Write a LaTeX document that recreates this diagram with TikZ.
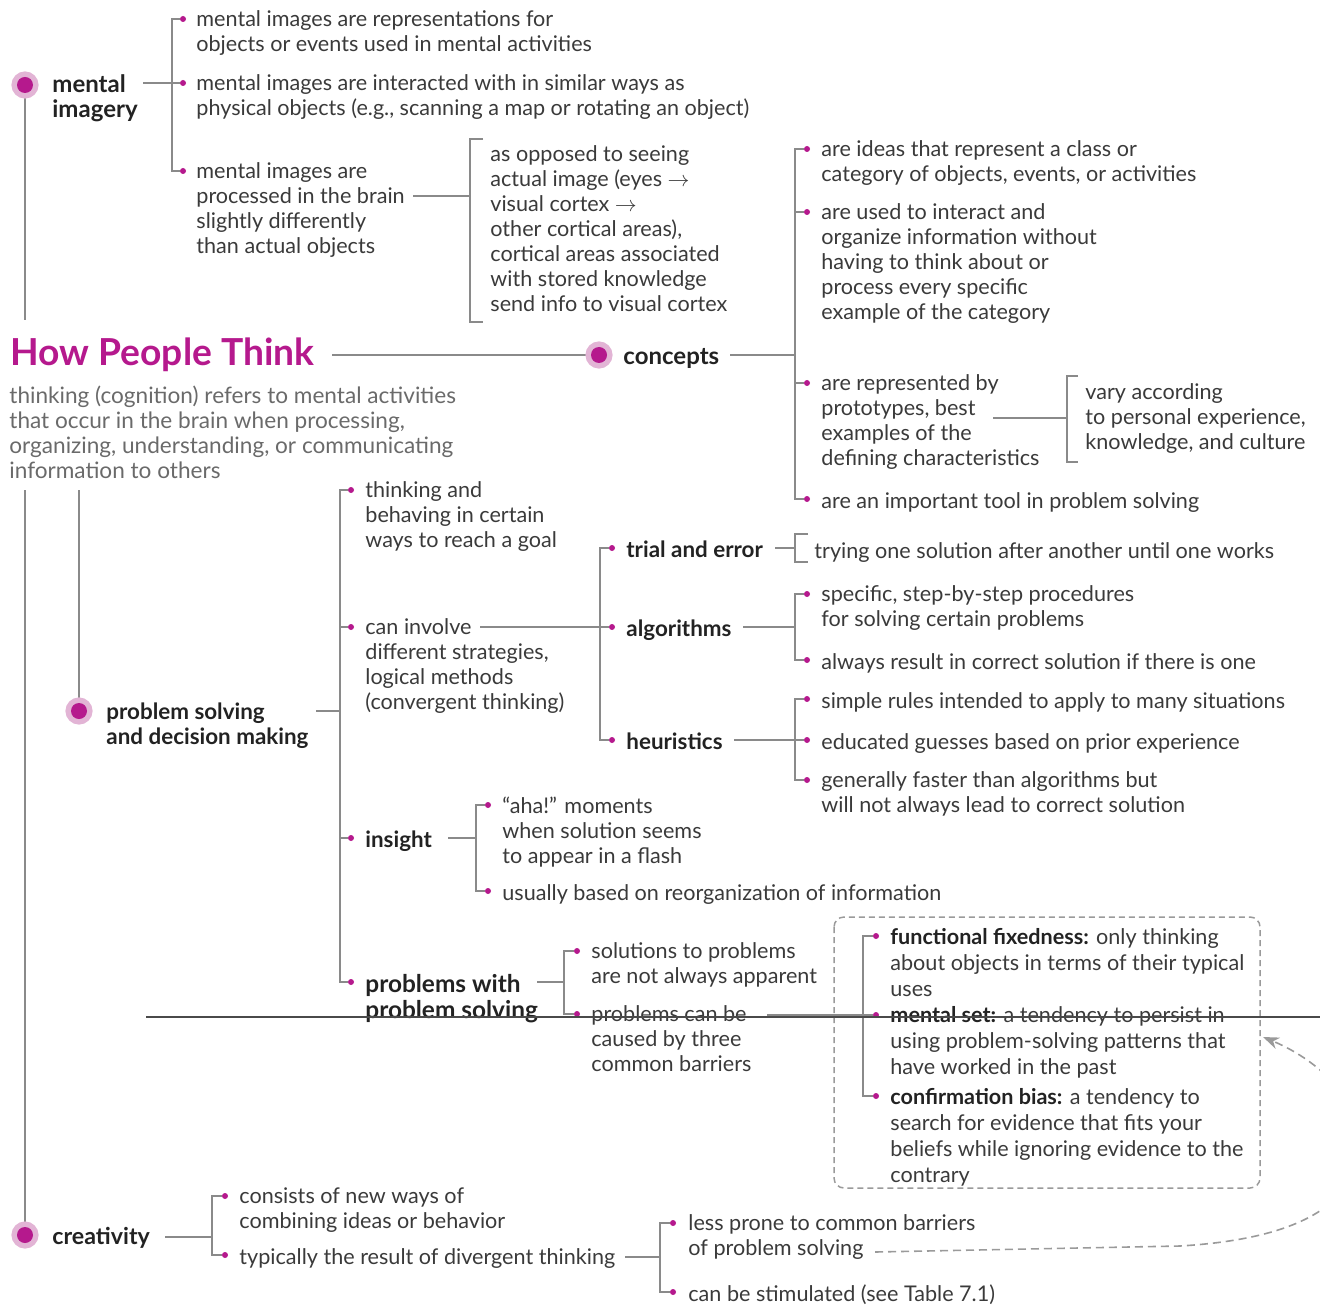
\documentclass[tikz,border=0pt]{standalone}
\usepackage{fontspec}
\setmainfont{Lato}
\usetikzlibrary{arrows.meta}
\definecolor{mag}{HTML}{B5198D}
\definecolor{pinkring}{HTML}{E2B4D5}
\definecolor{linegray}{HTML}{8A8A8A}
\definecolor{txtgray}{HTML}{3A3A3A}
\definecolor{descgray}{HTML}{6A6A6A}
\definecolor{hdgray}{HTML}{222222}
\definecolor{dashgray}{HTML}{9A9A9A}
\definecolor{strikegray}{HTML}{4A4A4A}
\pgfdeclarelayer{bg}
\pgfsetlayers{bg,main}
\tikzset{
  conn/.style={draw=linegray, line width=0.75pt},
  dot/.style={circle, fill=mag, inner sep=0pt, minimum size=3pt},
  txt/.style={anchor=north west, yshift=4.25pt, inner sep=0pt, align=left,
    font=\fontsize{10.8}{12.5}\selectfont, text=txtgray, execute at begin node=\strut},
  txtb/.style={txt, font=\fontsize{10.8}{13}\selectfont},
  hd/.style={txt, font=\fontsize{11.2}{12.5}\selectfont\bfseries, text=hdgray},
  hdl/.style={txt, font=\fontsize{12}{12.5}\selectfont\bfseries, text=hdgray},
  big/.style={circle, inner sep=0pt, minimum size=8pt, fill=mag,
    preaction={draw=pinkring, fill=pinkring, line width=5.5pt}},
  dashbox/.style={draw=dashgray, line width=0.75pt, dash pattern=on 3pt off 2pt, rounded corners=5pt},
}
\begin{document}
\begin{tikzpicture}[x=0.5pt, y=-0.5pt]
\useasboundingbox (0,0) rectangle (1320,1304);
\clip (0,0) rectangle (1320,1304);

% ---------- title ----------
\node[anchor=base west, inner sep=0pt, font=\fontsize{18.6}{20}\selectfont\bfseries, text=mag] (tt) at (10,366) {How People Think};
\node[txt, font=\fontsize{11.3}{12.5}\selectfont, text=descgray] (desc) at (9,394) {thinking (cognition) refers to mental activities\\that occur in the brain when processing,\\organizing, understanding, or communicating\\information to others};

% ---------- mental imagery ----------
\node[big] (mi) at (25,85) {};
\node[hdl] (mit) at (52,83) {mental\\imagery};
\node[dot] (m1) at (183,19) {};
\node[dot] (m2) at (183,83) {};
\node[dot] (m3) at (183,171) {};
\node[txt] (m1t) at (196,19) {mental images are representations for\\objects or events used in mental activities};
\node[txt] (m2t) at (196,83) {mental images are interacted with in similar ways as\\physical objects (e.g., scanning a map or rotating an object)};
\node[txt] (m3t) at (196,171) {mental images are\\processed in the brain\\slightly differently\\than actual objects};
\node[txt] (vt) at (490,154) {as opposed to seeing\\actual image (eyes $\rightarrow$\\visual cortex $\rightarrow$\\other cortical areas),\\cortical areas associated\\with stored knowledge\\send info to visual cortex};
\coordinate (mio) at (143,83);
\coordinate (mib) at (172,83);
\coordinate (m3o) at (413,196);
\coordinate (vb) at (470,196);
\coordinate (vbt) at (483,139);
\coordinate (vbb) at (483,322);
\coordinate (v1) at (25,320);

% ---------- concepts ----------
\node[big] (cc) at (599,355) {};
\node[hdl] (cct) at (623,355) {concepts};
\node[dot] (c1) at (807,149) {};
\node[dot] (c2) at (807,212) {};
\node[dot] (c3) at (807,383) {};
\node[dot] (c4) at (807,499) {};
\node[txt] (c1t) at (821,149) {are ideas that represent a class or\\category of objects, events, or activities};
\node[txt] (c2t) at (821,212) {are used to interact and\\organize information without\\having to think about or\\process every specific\\example of the category};
\node[txt] (c3t) at (821,383) {are represented by\\prototypes, best\\examples of the\\defining characteristics};
\node[txt] (c4t) at (821,499) {are an important tool in problem solving};
\node[txt] (pt) at (1085,392) {vary according\\to personal experience,\\knowledge, and culture};
\coordinate (tto) at (332,355);
\coordinate (cco) at (730,355);
\coordinate (ccb) at (795,355);
\coordinate (c3o) at (993,418);
\coordinate (pb) at (1067,418);
\coordinate (pbt) at (1078,376);
\coordinate (pbb) at (1078,462);

% ---------- problem solving ----------
\coordinate (v2) at (25,490);
\coordinate (v3) at (79,490);
\node[big] (ps) at (79,711) {};
\node[hd] (pst) at (106,711) {problem solving\\and decision making};
\coordinate (pso) at (316,711);
\coordinate (psb) at (340,711);
\node[dot] (p1) at (351,490) {};
\node[dot] (p2) at (351,627) {};
\node[dot] (p3) at (351,838) {};
\node[dot] (p4) at (351,982) {};
\node[txt] (p1t) at (365,490) {thinking and\\behaving in certain\\ways to reach a goal};
\node[txt] (p2t) at (365,627) {can involve\\different strategies,\\logical methods\\(convergent thinking)};
\node[hd] (p3t) at (365,838) {insight};
\node[hdl, font=\fontsize{12.2}{13}\selectfont\bfseries] (p4t) at (365,982) {problems with\\problem solving};
\coordinate (p2o) at (480,627);

% strategies
\coordinate (sb) at (600,627);
\node[dot] (s1) at (612,548) {};
\node[dot] (s2) at (612,627) {};
\node[dot] (s3) at (612,740) {};
\node[hd] (s1t) at (626,548) {trial and error};
\node[hd] (s2t) at (626,627) {algorithms};
\node[hd] (s3t) at (626,740) {heuristics};
\coordinate (s1o) at (775,548);
\coordinate (teb) at (795,548);
\coordinate (tebt) at (808,534);
\coordinate (tebb) at (808,562);
\node[txt] (tet) at (814,549) {trying one solution after another until one works};
\coordinate (s2o) at (743,627);
\coordinate (alb) at (795,627);
\node[dot] (a1) at (807,594) {};
\node[dot] (a2) at (807,660) {};
\node[txt] (a1t) at (821,594) {specific, step-by-step procedures\\for solving certain problems};
\node[txt] (a2t) at (821,660) {always result in correct solution if there is one};
\coordinate (s3o) at (734,740);
\coordinate (heb) at (795,740);
\node[dot] (h1) at (807,699) {};
\node[dot] (h2) at (807,740) {};
\node[dot] (h3) at (807,780) {};
\node[txt] (h1t) at (821,699) {simple rules intended to apply to many situations};
\node[txt] (h2t) at (821,740) {educated guesses based on prior experience};
\node[txt] (h3t) at (821,780) {generally faster than algorithms but\\will not always lead to correct solution};

% insight
\coordinate (p3o) at (448,838);
\coordinate (inb) at (476,838);
\node[dot] (i1) at (488,805) {};
\node[dot] (i2) at (488,891) {};
\node[txt] (i1t) at (502,805) {“aha!” moments\\when solution seems\\to appear in a flash};
\node[txt] (i2t) at (502,891) {usually based on reorganization of information};

% problems with problem solving
\coordinate (p4o) at (537,982);
\coordinate (pwb) at (564,982);
\node[dot] (q1) at (577,951) {};
\node[dot] (q2) at (577,1014) {};
\node[txt] (q1t) at (591,951) {solutions to problems\\are not always apparent};
\node[txt] (q2t) at (591,1014) {problems can be\\caused by three\\common barriers};
\coordinate (q2o) at (767,1015);

% barriers box
\draw[dashbox] (834,917) rectangle (1260,1188);
\coordinate (bb) at (863,1015);
\node[dot] (b1) at (876,936) {};
\node[dot] (b2) at (876,1015) {};
\node[dot] (b3) at (876,1096) {};
\node[txtb] (b1t) at (890,936) {\textbf{\color{hdgray}functional fixedness:} only thinking\\about objects in terms of their typical\\uses};
\node[txtb] (b2t) at (890,1015) {\textbf{\color{hdgray}mental set:} a tendency to persist in\\using problem-solving patterns that\\have worked in the past};
\node[txtb] (b3t) at (890,1096) {\textbf{\color{hdgray}confirmation bias:} a tendency to\\search for evidence that fits your\\beliefs while ignoring evidence to the\\contrary};

% ---------- creativity ----------
\node[big] (cr) at (25,1235) {};
\node[hdl, font=\fontsize{11.6}{12.5}\selectfont\bfseries] (crt) at (52,1235) {creativity};
\coordinate (cro) at (165,1237);
\coordinate (crb) at (212,1237);
\node[dot] (r1) at (225,1196) {};
\node[dot] (r2) at (225,1255) {};
\node[txt] (r1t) at (239,1196) {consists of new ways of\\combining ideas or behavior};
\node[txt] (r2t) at (239,1255) {typically the result of divergent thinking};
\coordinate (r2o) at (625,1257);
\coordinate (rb2) at (660,1257);
\node[dot] (k1) at (673,1223) {};
\node[dot] (k2) at (673,1292) {};
\node[txt] (k1t) at (688,1223) {less prone to common barriers\\of problem solving};
\node[txt] (k2t) at (688,1292) {can be stimulated (see Table 7.1)};
\coordinate (k1o) at (875,1252);
\coordinate (bxin) at (1263,1037);

% ---------- connectors ----------
\begin{pgfonlayer}{bg}
\draw[conn] (mi) -- (v1);
\draw[conn] (v2) -- (cr);
\draw[conn] (v3) -- (ps);
\draw[conn] (mio) -- (m2);
\draw[conn] (m1) -| (mib) |- (m3);
\draw[conn] (m3o) -- (vb);
\draw[conn] (vbt) -| (vb) |- (vbb);
\draw[conn] (tto) -- (cc);
\draw[conn] (cco) -- (ccb);
\draw[conn] (c1) -| (ccb) |- (c4);
\draw[conn] (c2) -- (c2 -| ccb);
\draw[conn] (c3) -- (c3 -| ccb);
\draw[conn] (c3o) -- (pb);
\draw[conn] (pbt) -| (pb) |- (pbb);
\draw[conn] (pso) -- (psb);
\draw[conn] (p1) -| (psb) |- (p4);
\draw[conn] (p2) -- (p2 -| psb);
\draw[conn] (p3) -- (p3 -| psb);
\draw[conn] (p2o) -- (s2);
\draw[conn] (s1) -| (sb) |- (s3);
\draw[conn] (s1o) -- (teb);
\draw[conn] (tebt) -| (teb) |- (tebb);
\draw[conn] (s2o) -- (alb);
\draw[conn] (a1) -| (alb) |- (a2);
\draw[conn] (s3o) -- (h2);
\draw[conn] (h1) -| (heb) |- (h3);
\draw[conn] (p3o) -- (inb);
\draw[conn] (i1) -| (inb) |- (i2);
\draw[conn] (p4o) -- (pwb);
\draw[conn] (q1) -| (pwb) |- (q2);
\draw[conn] (q2o) -- (b2);
\draw[conn] (b1) -| (bb) |- (b3);
\draw[conn] (cro) -- (crb);
\draw[conn] (r1) -| (crb) |- (r2);
\draw[conn] (r2o) -- (rb2);
\draw[conn] (k1) -| (rb2) |- (k2);
\end{pgfonlayer}

\draw[draw=dashgray, line width=0.8pt, dash pattern=on 4pt off 2.5pt, -{Stealth[length=8pt, width=6pt, inset=2.5pt]}]
  (k1o) -- (1180,1246) .. controls (1280,1240) and (1330,1215) .. (1350,1180)
  .. controls (1380,1120) and (1330,1065) .. (bxin);

% strike line across
\draw[draw=strikegray, line width=1pt] (146,1017) -- (1320,1017);
\end{tikzpicture}
\end{document}
